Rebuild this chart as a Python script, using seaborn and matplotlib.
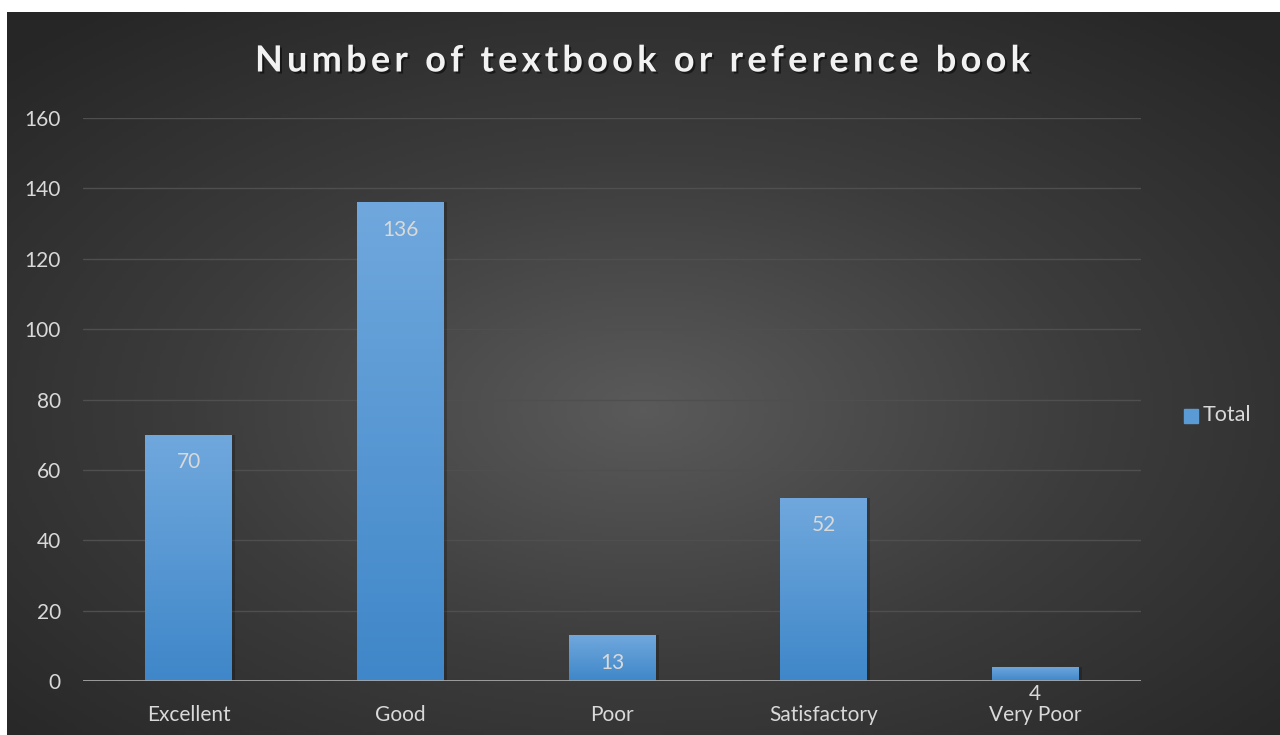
import numpy as np
import pandas as pd
import matplotlib
matplotlib.use("Agg")
import matplotlib.pyplot as plt
import matplotlib.patheffects as pe
import seaborn as sns
from matplotlib.colors import LinearSegmentedColormap

# ---------- DATA ----------
categories = ["Excellent", "Good", "Poor", "Satisfactory", "Very Poor"]
totals = [70, 136, 13, 52, 4]
y_ticks = [0, 20, 40, 60, 80, 100, 120, 140, 160]
title = "Number of textbook or reference book"
series_name = "Total"

df = pd.DataFrame({"category": categories, "total": totals})

sns.set_style("dark")
plt.rcParams["font.family"] = ["Lato", "DejaVu Sans"]

W, H = 1280, 735
fig = plt.figure(figsize=(W / 100, H / 100), dpi=100)
fig.patch.set_facecolor("white")

# ---------- BACKGROUND (radial gradient) ----------
bg = fig.add_axes([7 / W, 0, 1273 / W, 723 / H])
xx, yy = np.meshgrid(np.linspace(-1, 1, 400), np.linspace(-1, 1, 240))
r = np.clip(np.sqrt(xx ** 2 + (yy - 0.1) ** 2) / np.sqrt(2), 0, 1)
bg_cmap = LinearSegmentedColormap.from_list("bg", ["#5a5a5a", "#3c3c3c", "#262626"])
bg.imshow(r, cmap=bg_cmap, aspect="auto", extent=[0, 1, 0, 1], vmin=0, vmax=1)
bg.set_axis_off()

# ---------- BARS ----------
ax = fig.add_axes([83 / W, 54 / H, 1058 / W, 563 / H])
ax.patch.set_alpha(0)
sns.barplot(data=df, x="category", y="total", color="#5b9bd5", width=0.41,
            saturation=1, linewidth=0, ax=ax, zorder=3)

bar_cmap = LinearSegmentedColormap.from_list("bar", ["#3f87c9", "#70a8dd"])
grad = np.linspace(0, 1, 256).reshape(-1, 1)
for p in ax.patches:
    x0, y0 = p.get_x(), p.get_y()
    w, h = p.get_width(), p.get_height()
    # subtle shadow to the right
    ax.add_patch(plt.Rectangle((x0 + 0.015, y0), w, h, color="black", alpha=0.22, zorder=2, lw=0))
    im = ax.imshow(grad, cmap=bar_cmap, origin="lower", aspect="auto",
                   extent=[x0, x0 + w, y0, y0 + h], zorder=4)
    im.set_clip_path(p)

ax.set_xlim(-0.5, len(categories) - 0.5)
ax.set_ylim(0, 160)
ax.set_yticks(y_ticks)
ax.yaxis.grid(True, color="#4f4f4f", lw=1, zorder=1)
ax.xaxis.grid(False)
ax.axhline(0, color="#a6a6a6", lw=2, zorder=5)
for s in ax.spines.values():
    s.set_visible(False)
ax.tick_params(axis="both", length=0, colors="#d9d9d9", labelsize=15)
ax.tick_params(axis="y", pad=16)
ax.tick_params(axis="x", pad=17)
ax.set_xlabel("")
ax.set_ylabel("")

# ---------- DATA LABELS (inside end, like Excel) ----------
for i, v in enumerate(totals):
    ax.text(i, v - 7.8, str(v), ha="center", va="center",
            color="#d9d9d9", fontsize=15, zorder=6, clip_on=False)

# ---------- LEGEND ----------
fig.patches.append(plt.Rectangle((1184 / W, (H - 423) / H), 14 / W, 14 / H,
                                 transform=fig.transFigure, color="#5b9bd5", figure=fig))
fig.text(1203 / W, (H - 415) / H, series_name, color="#d9d9d9", fontsize=15.5,
         va="center", ha="left")

# ---------- TITLE (letter spaced) ----------
renderer = fig.canvas.get_renderer()
title_kw = dict(fontsize=26, fontweight="bold", color="#f2f2f2", va="center", ha="left")


def text_width(s):
    t = fig.text(0, 0, "x" + s + "x", **title_kw)
    w = t.get_window_extent(renderer).width
    t.remove()
    t = fig.text(0, 0, "xx", **title_kw)
    w -= t.get_window_extent(renderer).width
    t.remove()
    return w


left_px, right_px = 255, 1030
natural = text_width(title)
spacing = (right_px - left_px - natural) / (len(title) - 1)
shadow = [pe.withSimplePatchShadow(offset=(1.5, -1.5), shadow_rgbFace="black", alpha=0.5)]
for i, ch in enumerate(title):
    if ch == " ":
        continue
    x_px = left_px + text_width(title[:i]) + i * spacing
    fig.text(x_px / W, (H - 61) / H, ch, path_effects=shadow, **title_kw)

fig.savefig("out.png", dpi=100)
